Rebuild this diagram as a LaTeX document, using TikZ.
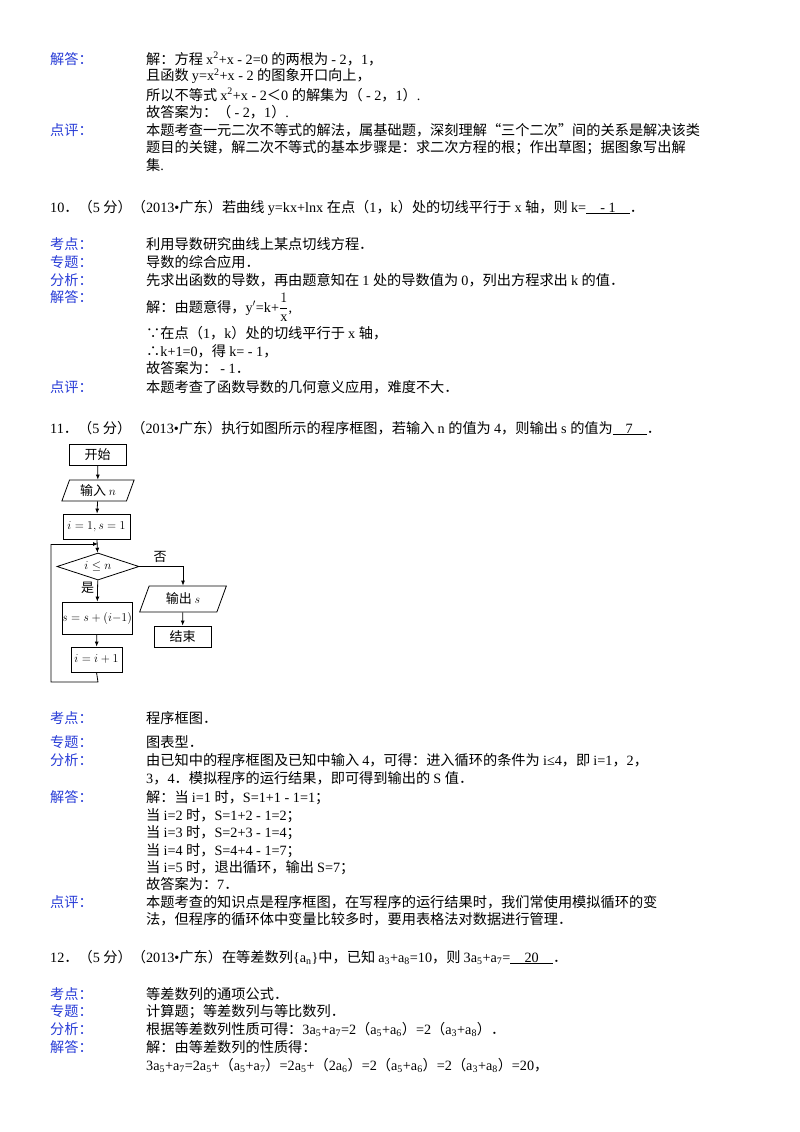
\documentclass[tikz,border=0pt]{standalone}
\usepackage{fontspec}
\setmainfont{Liberation Serif}
\newfontfamily\cjk{Noto Sans CJK SC}
\newfontfamily\lat{Liberation Serif}
\usetikzlibrary{shapes.geometric,arrows.meta}
\XeTeXinterchartokenstate=1
\newXeTeXintercharclass\CJKcls
\newcount\cc
\def\setcls#1#2{\cc=#1 \loop \XeTeXcharclass\cc=\CJKcls \ifnum\cc<#2 \advance\cc 1 \repeat}
\setcls{"4E00}{"9FFF}
\setcls{"3000}{"303F}
\setcls{"FF00}{"FFEF}
\XeTeXcharclass"201C=\CJKcls \XeTeXcharclass"201D=\CJKcls
\XeTeXcharclass"2234=\CJKcls \XeTeXcharclass"2235=\CJKcls
\XeTeXinterchartoks 0 \CJKcls = {\cjk}
\XeTeXinterchartoks 4095 \CJKcls = {\cjk}
\XeTeXinterchartoks \CJKcls 0 = {\lat}
\XeTeXinterchartoks 4095 0 = {\lat}
\definecolor{lblue}{RGB}{40,60,215}
\tikzset{lab/.style={anchor=base west,inner sep=0,text=lblue,font=\fontsize{14.2}{16}\selectfont},
 txt/.style={anchor=base west,inner sep=0,font=\fontsize{14.2}{16}\selectfont},
 fbox/.style={draw,thick,minimum width=#1,minimum height=21pt,inner sep=0,font=\fontsize{13}{15}\selectfont},
 pgram/.style={draw,thick,trapezium,trapezium left angle=70,trapezium right angle=110,minimum height=21pt,inner sep=1pt,font=\fontsize{13}{15}\selectfont},
 arr/.style={-{Latex[length=5pt,width=4pt]},thick}}
\begin{document}
\begin{tikzpicture}[x=1pt,y=-1pt]
\useasboundingbox (0,0) rectangle (800,1132);
\fill[white] (0,0) rectangle (800,1132);
\def\L#1#2#3{\node[lab] (#1) at (50,#2) {#3};}
\def\T#1#2#3{\node[txt] (#1) at (146,#2) {#3};}
\def\Q#1#2#3{\node[txt] (#1) at (50,#2) {#3};}
% block 9
\L{l1}{64}{解答：}
\T{t1}{64}{解：方程 x\textsuperscript{2}+x - 2=0 的两根为 - 2，1，}
\T{t2}{81}{且函数 y=x\textsuperscript{2}+x - 2 的图象开口向上，}
\T{t3}{100}{所以不等式 x\textsuperscript{2}+x - 2＜0 的解集为（ - 2，1）.}
\T{t4}{117}{故答案为：（ - 2，1）.}
\L{l2}{135}{点评：}
\T{t5}{135}{本题考查一元二次不等式的解法，属基础题，深刻理解“三个二次”间的关系是解决该类}
\T{t6}{152}{题目的关键，解二次不等式的基本步骤是：求二次方程的根；作出草图；据图象写出解}
\T{t7}{170}{集.}
% q10
\Q{q10}{212}{10．（5 分）（2013•广东）若曲线 y=kx+lnx 在点（1，k）处的切线平行于 x 轴，则 k=\underline{\ \ \ \ - 1\ \ \ \ }．}
\L{l3}{249}{考点：}\T{t8}{249}{利用导数研究曲线上某点切线方程．}
\L{l4}{267}{专题：}\T{t9}{267}{导数的综合应用．}
\L{l5}{285}{分析：}\T{t10}{285}{先求出函数的导数，再由题意知在 1 处的导数值为 0，列出方程求出 k 的值．}
\L{l6}{302}{解答：}\T{t11}{312}{解：由题意得，y$'$=k+$\displaystyle\frac{1}{\mathrm{x}}$,}
\T{t12}{338}{∵在点（1，k）处的切线平行于 x 轴，}
\T{t13}{356}{∴k+1=0，得 k= - 1，}
\T{t14}{373}{故答案为： - 1．}
\L{l7}{392}{点评：}\T{t15}{392}{本题考查了函数导数的几何意义应用，难度不大．}
% q11
\Q{q11}{433}{11．（5 分）（2013•广东）执行如图所示的程序框图，若输入 n 的值为 4，则输出 s 的值为\underline{\ \ \ \ 7\ \ \ \ }．}
% flowchart
\node[fbox=57pt] (start) at (97.5,454.5) {开始};
\node[pgram,minimum width=60pt] (inp) at (98,490.5) {输入 $n$};
\node[fbox=67pt,minimum height=25pt] (init) at (96.5,526.5) {$i=1,s=1$};
\node[draw,thick,diamond,aspect=3,minimum width=82pt,minimum height=27pt,inner sep=0,font=\fontsize{13}{15}\selectfont] (dec) at (98,566.5) {$i\le n$};
\node[pgram,minimum width=72pt,minimum height=26pt] (out) at (183,599) {输出 $s$};
\node[fbox=57pt] (end) at (182.5,636.5) {结束};
\node[fbox=70pt,minimum height=32pt] (upd) at (97,618) {$s=s+(i{-}1)$};
\node[fbox=51pt,minimum height=25pt] (inc) at (96.5,659.5) {$i=i+1$};
\coordinate (j) at (98,544);
\coordinate (b1) at (98,682);
\coordinate (b2) at (51,682);
\coordinate (b3) at (51,544);
\draw[arr] (start) -- (inp);
\draw[arr] (inp) -- (init);
\draw[arr] (init) -- (dec);
\draw[arr] (dec) -- node[pos=0.35,left,font=\fontsize{13}{15}\selectfont,inner sep=3pt]{是} (upd);
\draw[arr] (upd) -- (inc);
\draw[thick] (inc.south) -- (b1) -- (b2) -- (b3);
\draw[arr] (b3) -- (j);
\draw[arr] (dec.east) -| (out.north);
\node[font=\fontsize{13}{15}\selectfont] (no) at (160,557) {否};
\draw[arr] (out) -- (end);
% explanations 11
\L{l8}{723}{考点：}\T{t16}{723}{程序框图．}
\L{l9}{747}{专题：}\T{t17}{747}{图表型．}
\L{l10}{765}{分析：}\T{t18}{765}{由已知中的程序框图及已知中输入 4，可得：进入循环的条件为 i≤4，即 i=1，2，}
\T{t19}{783}{3，4．模拟程序的运行结果，即可得到输出的 S 值．}
\L{l11}{802}{解答：}\T{t20}{802}{解：当 i=1 时，S=1+1 - 1=1；}
\T{t21}{820}{当 i=2 时，S=1+2 - 1=2；}
\T{t22}{837}{当 i=3 时，S=2+3 - 1=4；}
\T{t23}{855}{当 i=4 时，S=4+4 - 1=7；}
\T{t24}{872}{当 i=5 时，退出循环，输出 S=7；}
\T{t25}{889}{故答案为：7．}
\L{l12}{907}{点评：}\T{t26}{907}{本题考查的知识点是程序框图，在写程序的运行结果时，我们常使用模拟循环的变}
\T{t27}{924}{法，但程序的循环体中变量比较多时，要用表格法对数据进行管理．}
% q12
\Q{q12}{962}{12．（5 分）（2013•广东）在等差数列\{a\textsubscript{n}\}中，已知 a\textsubscript{3}+a\textsubscript{8}=10，则 3a\textsubscript{5}+a\textsubscript{7}=\underline{\ \ \ \ 20\ \ \ \ }．}
\L{l13}{999}{考点：}\T{t28}{999}{等差数列的通项公式．}
\L{l14}{1016}{专题：}\T{t29}{1016}{计算题；等差数列与等比数列．}
\L{l15}{1034}{分析：}\T{t30}{1034}{根据等差数列性质可得：3a\textsubscript{5}+a\textsubscript{7}=2（a\textsubscript{5}+a\textsubscript{6}）=2（a\textsubscript{3}+a\textsubscript{8}）．}
\L{l16}{1052}{解答：}\T{t31}{1052}{解：由等差数列的性质得：}
\T{t32}{1070}{3a\textsubscript{5}+a\textsubscript{7}=2a\textsubscript{5}+（a\textsubscript{5}+a\textsubscript{7}）=2a\textsubscript{5}+（2a\textsubscript{6}）=2（a\textsubscript{5}+a\textsubscript{6}）=2（a\textsubscript{3}+a\textsubscript{8}）=20，}
\end{tikzpicture}
\end{document}
